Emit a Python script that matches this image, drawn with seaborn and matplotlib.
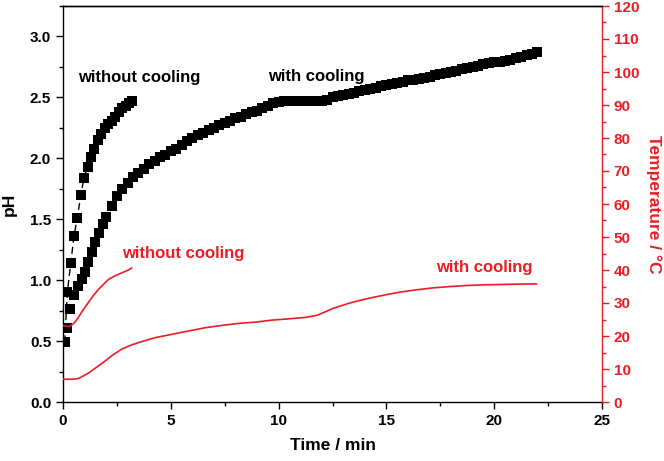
"""pH and temperature vs time, with and without cooling."""

import matplotlib

matplotlib.use("Agg")
import matplotlib.pyplot as plt
import pandas as pd
import seaborn as sns
from matplotlib.ticker import MultipleLocator

# pH, without cooling (squares joined by a dashed line)
t_ph_nocool = [0.08, 0.2, 0.36, 0.51, 0.66, 0.83, 0.97, 1.14, 1.3, 1.46, 1.62,
               1.78, 1.94, 2.1, 2.26, 2.42, 2.58, 2.74, 2.9, 3.05, 3.19]
ph_nocool = [0.49, 0.90, 1.14, 1.36, 1.51, 1.70, 1.84, 1.93, 2.01, 2.08, 2.15,
             2.20, 2.25, 2.28, 2.31, 2.34, 2.38, 2.41, 2.43, 2.45, 2.47]

# pH, with cooling
t_ph_cool = [0.17, 0.33, 0.51, 0.71, 0.87, 1.02, 1.17, 1.33, 1.48, 1.68, 1.84,
             2.0, 2.25, 2.5, 2.75, 3.0, 3.25, 3.5, 3.75, 4.0, 4.25, 4.5, 4.75,
             5.0, 5.25, 5.5, 5.75, 6.0, 6.25, 6.5, 6.75, 7.0, 7.25, 7.5, 7.75,
             8.0, 8.25, 8.5, 8.75, 9.0, 9.25, 9.5, 9.75, 10.0, 10.25, 10.5,
             10.75, 11.0, 11.25, 11.5, 11.75, 12.0, 12.25, 12.5, 12.75, 13.0,
             13.25, 13.5, 13.75, 14.0, 14.25, 14.5, 14.75, 15.0, 15.25, 15.5,
             15.75, 16.0, 16.25, 16.5, 16.75, 17.0, 17.25, 17.5, 17.75, 18.0,
             18.25, 18.5, 18.75, 19.0, 19.25, 19.5, 19.75, 20.0, 20.25, 20.5,
             20.75, 21.0, 21.25, 21.5, 21.75, 22.0]
ph_cool = [0.61, 0.76, 0.88, 0.95, 1.01, 1.07, 1.15, 1.23, 1.31, 1.39, 1.46,
           1.52, 1.61, 1.69, 1.75, 1.80, 1.85, 1.88, 1.91, 1.95, 1.98, 2.01, 2.03,
           2.06, 2.08, 2.11, 2.14, 2.17, 2.19, 2.21, 2.23, 2.25, 2.27, 2.29, 2.31,
           2.33, 2.34, 2.36, 2.38, 2.39, 2.41, 2.43, 2.45, 2.46, 2.47, 2.47,
           2.47, 2.47, 2.47, 2.47, 2.47, 2.47, 2.48, 2.50, 2.51, 2.52,
           2.53, 2.54, 2.55, 2.56, 2.57, 2.58, 2.59, 2.60, 2.61, 2.62,
           2.63, 2.64, 2.645, 2.65, 2.66, 2.67, 2.68, 2.69, 2.70, 2.71,
           2.72, 2.73, 2.74, 2.75, 2.76, 2.77, 2.78, 2.79, 2.79, 2.80,
           2.81, 2.82, 2.83, 2.85, 2.86, 2.87]

# temperature, without cooling
t_temp_nocool = [0.0, 0.15, 0.3, 0.5, 0.7, 0.9, 1.17, 1.4, 1.64, 1.9, 2.1,
                 2.4, 2.72, 3.0, 3.19]
temp_nocool = [23.2, 22.9, 22.9, 23.8, 25.5, 27.6, 30.1, 32.2, 34.1, 35.8, 37.1,
               38.2, 39.1, 39.9, 40.6]

# temperature, with cooling
t_temp_cool = [0.0, 0.4, 0.71, 1.17, 1.55, 1.95, 2.3, 2.72, 3.1, 3.5, 4.27,
               5.04, 5.81, 6.59, 7.36, 8.13, 8.92, 9.68, 10.45, 11.22, 11.8,
               12.54, 13.3, 14.09, 14.9, 15.63, 16.4, 17.18, 18.0, 18.72, 19.5,
               20.27, 21.0, 21.97]
temp_cool = [6.9, 6.9, 7.1, 8.7, 10.5, 12.4, 14.2, 16.0, 17.1, 18.0, 19.5,
             20.5, 21.5, 22.5, 23.2, 23.8, 24.2, 24.8, 25.2, 25.6, 26.3,
             28.4, 30.0, 31.3, 32.4, 33.3, 34.0, 34.6, 35.0, 35.3, 35.5,
             35.6, 35.7, 35.8]

RED = "#ec1c24"

sns.set_theme(style="ticks", rc={
    "text.color": "black",
    "axes.labelcolor": "black",
    "axes.edgecolor": "black",
    "xtick.color": "black",
    "ytick.color": "black",
})
plt.rcParams["font.family"] = ["Liberation Sans", "DejaVu Sans"]
plt.rcParams["font.weight"] = "bold"
plt.rcParams["axes.labelweight"] = "bold"

fig = plt.figure(figsize=(6.64, 4.61), dpi=100)
ax = fig.add_axes([63 / 664, 59 / 461, 539 / 664, 396 / 461])
ax2 = ax.twinx()

nocool = pd.DataFrame({"t": t_ph_nocool, "ph": ph_nocool})
cool = pd.DataFrame({"t": t_ph_cool, "ph": ph_cool})
sns.lineplot(data=nocool, x="t", y="ph", ax=ax, color="black", linewidth=1,
             linestyle=(0, (5, 3)), marker="s", markersize=6.5,
             markeredgewidth=0)
sns.scatterplot(data=cool, x="t", y="ph", ax=ax, color="black", marker="s",
                s=42, linewidth=0)

tn = pd.DataFrame({"t": t_temp_nocool, "T": temp_nocool})
tc = pd.DataFrame({"t": t_temp_cool, "T": temp_cool})
sns.lineplot(data=tn, x="t", y="T", ax=ax2, color=RED, linewidth=1.2)
sns.lineplot(data=tc, x="t", y="T", ax=ax2, color=RED, linewidth=1.2)

ax.set_xlim(0, 25)
ax.set_ylim(0, 3.25)
ax2.set_ylim(0, 120)
ax.xaxis.set_major_locator(MultipleLocator(5))
ax.xaxis.set_minor_locator(MultipleLocator(2.5))
ax.yaxis.set_major_locator(MultipleLocator(0.5))
ax.yaxis.set_minor_locator(MultipleLocator(0.25))
ax.yaxis.set_major_formatter("{x:.1f}")
ax2.yaxis.set_major_locator(MultipleLocator(10))
ax2.yaxis.set_minor_locator(MultipleLocator(5))

for a in (ax, ax2):
    a.tick_params(which="major", direction="out", length=5, width=1,
                  labelsize=11)
    a.tick_params(which="minor", direction="out", length=3, width=1)
    for s in a.spines.values():
        s.set_linewidth(1)

ax.tick_params(colors="black")
ax2.tick_params(axis="y", which="both", colors=RED)
ax.spines["right"].set_visible(False)
ax2.spines["left"].set_visible(False)
ax2.spines["bottom"].set_visible(False)
ax2.spines["right"].set_color(RED)
ax.spines["top"].set_visible(True)
for lbl in ax.get_xticklabels() + ax.get_yticklabels() + ax2.get_yticklabels():
    lbl.set_fontweight("bold")

ax.set_xlabel("Time / min", fontsize=12.5, fontweight="bold")
ax.set_ylabel("pH", fontsize=12.5, fontweight="bold")
ax2.set_ylabel("Temperature / °C", fontsize=12.5, fontweight="bold",
               color=RED, rotation=270, va="center")
ax.xaxis.set_label_coords(0.5, -0.09)
ax.yaxis.set_label_coords(-0.085, 0.5)
ax2.yaxis.set_label_coords(1.096, 0.5)

ax.text(3.52, 2.66, "without cooling", ha="center", va="center",
        fontsize=12, fontweight="bold", color="black")
ax.text(11.73, 2.67, "with cooling", ha="center", va="center",
        fontsize=12, fontweight="bold", color="black")
ax.text(5.57, 1.22, "without cooling", ha="center", va="center",
        fontsize=12, fontweight="bold", color=RED)
ax.text(19.53, 1.10, "with cooling", ha="center", va="center",
        fontsize=12, fontweight="bold", color=RED)

fig.savefig("out.png", dpi=100)
